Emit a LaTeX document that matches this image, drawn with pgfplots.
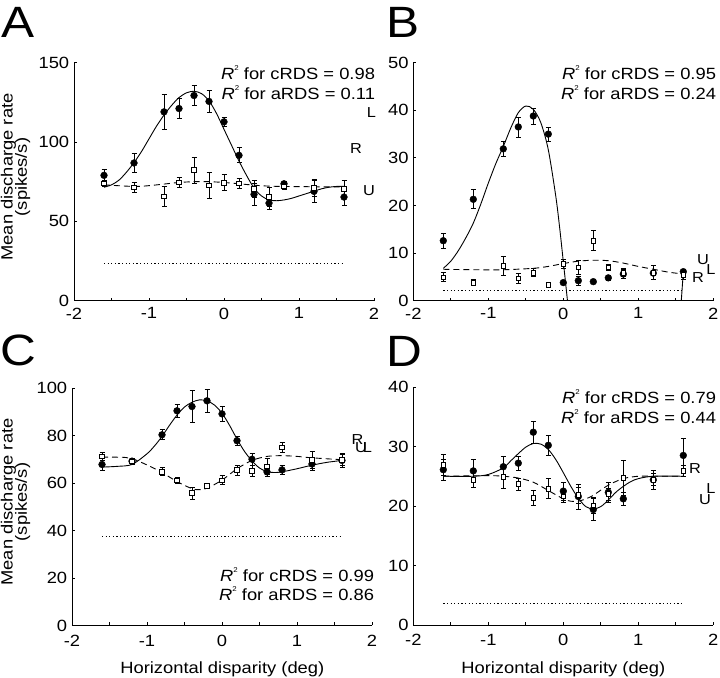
\documentclass[border=0pt]{standalone}
\usepackage{fontspec}
\setmainfont{Liberation Sans}[FakeStretch=1.13]
\usepackage{pgfplots}
\usepackage{pgfplotstable}
\pgfplotsset{compat=1.18}

\newcommand\tf{\fontsize{16.3}{19}\selectfont}
\newcommand\lf{\fontsize{14.5}{17}\selectfont}
\newcommand\bigf{\fontsize{44}{48}\selectfont}
\newcommand\Rsq{\textit{R}\raisebox{0.55em}{\fontsize{7}{7}\selectfont 2}}

\pgfplotstableread{
x c ce a ae
-1.6 79.0 3.9 73.9 2.0
-1.2 86.8 5.9 71.4 3.2
-0.8 119.0 10.8 65.7 6.3
-0.6 121.1 6.4 74.6 3.2
-0.4 129.3 6.3 82.4 8.2
-0.2 125.6 6.7 72.7 8.4
0 112.7 2.6 74.4 5.0
0.2 91.6 4.7 73.9 3.0
0.4 67.0 6.8 70.4 5.6
0.6 61.5 3.8 65.3 6.0
0.8 73.7 1.4 72.0 2.0
1.2 68.9 6.8 71.0 5.5
1.6 65.3 5.0 70.6 5.0
}\dataA

\pgfplotstableread{
x c ce a ae
-1.6 12.6 1.6 4.9 0.95
-1.2 21.3 2.0 3.8 0.6
-0.8 31.9 1.65 7.3 2.0
-0.6 36.5 2.1 4.7 1.0
-0.4 38.8 1.7 5.9 0.9
-0.2 35.0 1.5 3.4 0.5
0 3.8 0.4 7.7 0.9
0.2 4.2 0.9 7.0 1.4
0.4 4.0 0.4 12.6 2.1
0.6 4.8 0.6 7.0 0.6
0.8 5.6 0.9 5.9 0.8
1.2 5.8 0.5 5.9 1.5
1.6 6.1 0.5 5.4 1.0
}\dataB

\pgfplotstableread{
x c ce a ae
-1.6 67.8 2.4 71.2 1.75
-1.2 69.2 1.3 69.1 1.4
-0.8 80.3 2.1 64.8 1.8
-0.6 90.4 2.7 61.1 1.2
-0.4 92.2 6.8 55.7 2.5
-0.2 94.6 5.0 58.8 1.1
0 89.1 3.0 61.1 1.9
0.2 77.8 2.0 65.5 2.1
0.4 70.0 2.6 65.0 2.4
0.6 64.7 1.8 67.0 3.5
0.8 65.5 1.7 75.0 2.1
1.2 68.0 2.5 69.8 3.7
1.6 69.5 3.0 69.8 2.2
}\dataC

\pgfplotstableread{
x c ce a ae
-1.6 26.1 1.8 26.9 1.7
-1.2 25.9 2.0 24.4 1.2
-0.8 26.6 1.8 24.9 1.95
-0.6 27.2 1.2 23.7 1.0
-0.4 32.4 1.9 21.3 1.25
-0.2 30.2 1.7 22.9 1.7
0 22.5 1.5 21.6 1.0
0.2 21.6 2.1 21.8 1.4
0.4 19.4 1.8 20.1 1.3
0.6 22.3 1.7 22.0 1.0
0.8 21.2 1.1 24.7 2.9
1.2 24.4 1.0 24.4 1.6
1.6 28.5 2.8 25.9 1.0
}\dataD

\pgfplotsset{
  panel/.style={
    scale only axis, width=300bp, height=238bp,
    xmin=-2, xmax=2, ymin=0,
    axis x line*=bottom, axis y line*=left,
    axis line style={-, black, line width=0.9bp},
    tick align=inside,
    major tick length=3bp,
    every tick/.style={black, line width=0.8bp},
    xtick={-2,-1.5,-1,-0.5,0,0.5,1,1.5,2},
    xticklabels={-2,,-1,,0,,1,,2},
    ticklabel style={font=\tf},
    yticklabel style={xshift=-1.3bp},
  },
  fitc/.style={black, line width=0.9bp, smooth},
  fita/.style={black, line width=0.9bp, smooth, dash pattern=on 6bp off 4bp},
  base/.style={black, line width=0.9bp, dash pattern=on 1.2bp off 2.4bp},
  cdat/.style={only marks, mark=*, mark size=3.4bp,
    mark options={fill=black, draw=black},
    error bars/.cd, y dir=both, y explicit,
    error bar style={black, line width=0.8bp},
    error mark options={rotate=90, black, mark size=2.5bp, line width=0.8bp}},
  adat/.style={only marks, mark=square*, mark size=2.4bp,
    mark options={fill=white, draw=black, line width=0.8bp},
    error bars/.cd, y dir=both, y explicit,
    error bar style={black, line width=0.8bp},
    error mark options={rotate=90, black, mark size=2.5bp, line width=0.8bp}},
}

\begin{document}
\begin{tikzpicture}[x=1bp,y=1bp]
\path[use as bounding box] (0,0) rectangle (720,678);

% ---------------- A ----------------
\begin{axis}[panel, at={(74bp,377.3bp)}, anchor=south west, ymax=150,
  ytick={0,50,100,150}, yticklabels={0,50,100,150},
  xticklabel style={yshift=-3.5bp}]
\addplot[fitc] coordinates {(-1.6,71.5) (-1.5,73) (-1.4,76) (-1.3,81) (-1.2,87) (-1.1,94) (-1.0,102) (-0.9,110) (-0.8,117) (-0.7,123) (-0.6,128) (-0.5,131) (-0.4,132) (-0.3,130.5) (-0.2,126) (-0.1,118) (0.0,108) (0.1,98) (0.2,88) (0.3,79) (0.4,71) (0.5,66) (0.6,63.5) (0.7,63) (0.8,63.5) (0.9,64.5) (1.0,66) (1.1,67.5) (1.2,69) (1.3,70.5) (1.4,71.5) (1.5,72) (1.6,72)};
\addplot[fita] coordinates {(-1.6,73.0) (-1.2,72.0) (-1.0,72.5) (-0.8,73.5) (-0.6,74.5) (-0.4,75.0) (-0.2,75.0) (0,74.5) (0.2,73.7) (0.4,72.8) (0.6,72.2) (0.8,72.0) (1.2,71.8) (1.6,71.6)};
\addplot[base] coordinates {(-1.6,23.6) (1.6,23.6)};
\addplot[cdat] table[x=x, y=c, y error=ce] {\dataA};
\addplot[adat] table[x=x, y=a, y error=ae] {\dataA};
\end{axis}

% ---------------- B ----------------
\begin{axis}[panel, at={(413.3bp,377.3bp)}, anchor=south west, ymax=50,
  ytick={0,10,20,30,40,50}, yticklabels={0,10,20,30,40,50},
  xticklabel style={yshift=-3.5bp}]
\addplot[fitc] coordinates {(-1.6,6.8) (-1.5,8.3) (-1.4,10.5) (-1.3,13.2) (-1.2,16.3) (-1.1,20.3) (-1.0,24.7) (-0.9,28.8) (-0.8,32.4) (-0.7,36.3) (-0.6,39.5) (-0.5,40.9) (-0.4,40.2) (-0.3,37.4) (-0.2,31.7) (-0.1,21.9) (-0.05,15.5) (0,8.2) (0.05,0.8) (0.1,-7)};
\addplot[fitc] coordinates {(1.555,-4) (1.6,6.0)};
\addplot[fita] coordinates {(-1.6,6.6) (-1.2,6.5) (-0.8,6.5) (-0.4,6.8) (-0.2,7.2) (0,7.8) (0.2,8.3) (0.4,8.5) (0.6,8.4) (0.8,7.9) (1.0,7.2) (1.2,6.6) (1.4,6.0) (1.6,5.6)};
\addplot[base] coordinates {(-1.6,2.25) (1.6,2.25)};
\addplot[cdat] table[x=x, y=c, y error=ce] {\dataB};
\addplot[adat] table[x=x, y=a, y error=ae] {\dataB};
\end{axis}

% ---------------- C ----------------
\begin{axis}[panel, at={(72bp,52.5bp)}, anchor=south west, ymax=100, height=237.5bp,
  ytick={0,20,40,60,80,100}, yticklabels={0,20,40,60,80,100},
  xticklabel style={yshift=-6bp}]
\addplot[fitc] coordinates {(-1.6,66.7) (-1.4,67.0) (-1.2,67.8) (-1.0,72.3) (-0.9,75.6) (-0.8,79.6) (-0.7,84.3) (-0.6,88.6) (-0.5,92.0) (-0.4,94.0) (-0.3,95.0) (-0.2,94.6) (-0.1,92.8) (0,89.4) (0.1,84.3) (0.2,78.5) (0.3,73.3) (0.4,69.3) (0.5,66.3) (0.6,64.8) (0.7,64.4) (0.8,64.7) (1.0,66.0) (1.2,67.5) (1.4,68.7) (1.6,69.5)};
\addplot[fita] coordinates {(-1.6,70.9) (-1.3,70.8) (-1.2,70.3) (-1.0,67.6) (-0.8,64.4) (-0.6,60.6) (-0.4,57.6) (-0.3,57.2) (-0.2,57.8) (0,61.2) (0.2,66.0) (0.4,69.5) (0.6,71.2) (0.8,71.5) (1.0,71.2) (1.2,70.6) (1.6,69.8)};
\addplot[base] coordinates {(-1.6,37.3) (1.6,37.3)};
\addplot[cdat] table[x=x, y=c, y error=ce] {\dataC};
\addplot[adat] table[x=x, y=a, y error=ae] {\dataC};
\end{axis}

% ---------------- D ----------------
\begin{axis}[panel, at={(413.3bp,53bp)}, anchor=south west, ymax=40,
  ytick={0,10,20,30,40}, yticklabels={0,10,20,30,40},
  xticklabel style={yshift=-6bp}]
\addplot[fitc] coordinates {(-1.6,25) (-1.2,25) (-1.0,25.3) (-0.8,26.4) (-0.7,27.6) (-0.6,28.8) (-0.5,29.9) (-0.4,30.5) (-0.3,30.4) (-0.2,29.5) (-0.1,27.8) (0,25.6) (0.1,23.3) (0.2,21.3) (0.3,19.9) (0.4,19.5) (0.5,19.9) (0.6,21.0) (0.7,22.3) (0.8,23.3) (0.9,24.1) (1.0,24.6) (1.2,25) (1.6,25)};
\addplot[fita] coordinates {(-1.6,25) (-1.0,25.1) (-0.8,25.0) (-0.6,24.7) (-0.4,24.0) (-0.2,22.6) (0,21.2) (0.1,20.8) (0.2,20.8) (0.3,21.2) (0.4,21.8) (0.6,23.5) (0.8,24.6) (1.0,25.0) (1.2,25) (1.6,25)};
\addplot[base] coordinates {(-1.6,3.6) (1.6,3.6)};
\addplot[cdat] table[x=x, y=c, y error=ce] {\dataD};
\addplot[adat] table[x=x, y=a, y error=ae] {\dataD};
\end{axis}

% ---------------- texts ----------------
\begin{scope}[every node/.style={inner sep=0pt, outer sep=0pt}]
\node[anchor=base west, font=\bigf] at (1,640) {A};
\node[anchor=base west, font=\bigf] at (386,640) {B};
\node[anchor=base west, font=\bigf] at (0,312) {C};
\node[anchor=base west, font=\bigf] at (386,311) {D};

\node[rotate=90, font=\tf] at (8.5,501) {Mean discharge rate};
\node[rotate=90, font=\tf] at (22.7,501) {(spikes/s)};
\node[rotate=90, font=\tf] at (8.5,176) {Mean discharge rate};
\node[rotate=90, font=\tf] at (22.7,176) {(spikes/s)};

\node[anchor=base, font=\tf] at (222.3,4) {Horizontal disparity (deg)};
\node[anchor=base, font=\tf] at (563.3,4) {Horizontal disparity (deg)};

\node[anchor=east, font=\tf] at (375,605) {\Rsq{} for cRDS = 0.98};
\node[anchor=east, font=\tf] at (375,585) {\Rsq{} for aRDS = 0.11};
\node[anchor=east, font=\tf] at (716,605) {\Rsq{} for cRDS = 0.95};
\node[anchor=east, font=\tf] at (716,585) {\Rsq{} for aRDS = 0.24};
\node[anchor=east, font=\tf] at (374,103) {\Rsq{} for cRDS = 0.99};
\node[anchor=east, font=\tf] at (374,84) {\Rsq{} for aRDS = 0.86};
\node[anchor=east, font=\tf] at (716,281) {\Rsq{} for cRDS = 0.79};
\node[anchor=east, font=\tf] at (716,261) {\Rsq{} for aRDS = 0.44};

\node[font=\lf] at (371.5,565) {L};
\node[font=\lf] at (356,529) {R};
\node[font=\lf] at (369,487) {U};
\node[font=\lf] at (703,418) {U};
\node[font=\lf] at (711,408) {L};
\node[font=\lf] at (698,400) {R};
\node[font=\lf] at (357.5,238) {R};
\node[font=\lf] at (361,230.5) {U};
\node[font=\lf] at (367.5,230.5) {L};
\node[font=\lf] at (695,209) {R};
\node[font=\lf] at (711,189) {L};
\node[font=\lf] at (705,178) {U};
\end{scope}
\end{tikzpicture}
\end{document}
